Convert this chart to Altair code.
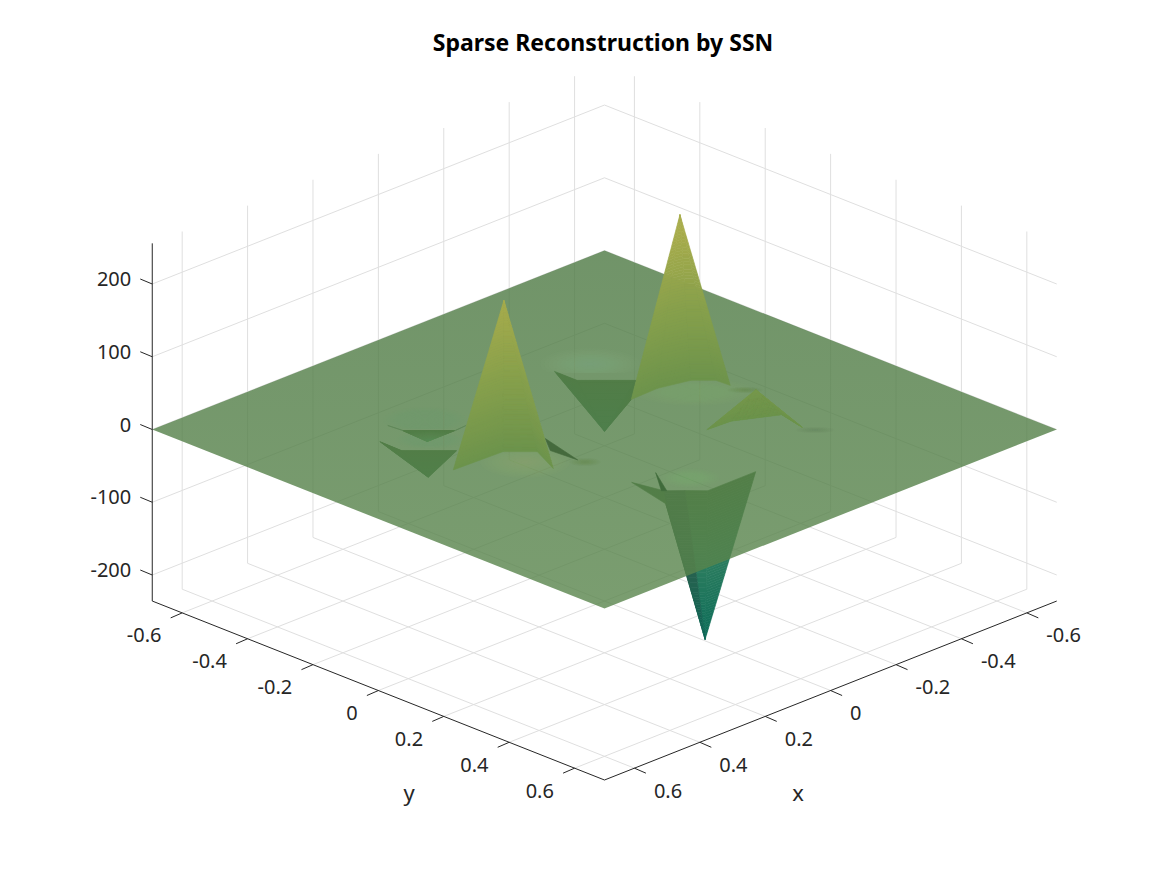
import math
import altair as alt
import pandas as pd

# ---- values -----------------------------------------------------------
TITLE = "Sparse Reconstruction by SSN"
XY_TICKS = [-0.6, -0.4, -0.2, 0, 0.2, 0.4, 0.6]
Z_TICKS = [-200, -100, 0, 100, 200]
LIM = 0.6915
Z_MIN, Z_MAX = -235.8, 255.9

# spikes: apex (x, y, z) and the rim they rise from (x, y at z = 0)
PEAK_A = ((0.2307, -0.0769, 205), [(0.3874, -0.075), (0.2402, -0.0697), (0.1881, -0.0175), (0.2294, 0.0729)])
PEAK_B = ((-0.3076, -0.0769, 227), [(-0.1572, -0.0753), (-0.2398, -0.0781), (-0.3219, -0.058), (-0.3602, -0.0196), (-0.3628, 0.0217)])
PEAK_F = ((-0.278, 0.185, 38), [(-0.1553, 0.1576), (-0.2255, 0.1612), (-0.3281, 0.2141), (-0.3099, 0.2967)])
PIT_G = ((-0.1923, -0.1923, -71), [(-0.1481, -0.3015), (-0.148, -0.2318), (-0.2375, -0.1424), (-0.1572, -0.0753)])
PIT_D = ((0.351, -0.188, -36.7), [(0.3902, -0.2972), (0.3918, -0.229), (0.3074, -0.1446)])
PIT_E = ((0.275, -0.267, -15), [(0.3127, -0.305), (0.2325, -0.2247)])
PIT_C_LEFT = ((0.0769, 0.3845, -206.7), [(0.1932, 0.3804), (0.1459, 0.327), (0.1126, 0.3588)])
PIT_C = ((0.0769, 0.3845, -206.7), [(0.1126, 0.3588), (0.0785, 0.3945), (-0.0684, 0.394)])

# small folds seen flat on the sheet
FOLD_C = [(0.1628, 0.2457), (0.1459, 0.327), (0.1932, 0.3804)]
FOLD_C2 = [(0.0884, 0.2449), (0.1413, 0.3315), (0.1495, 0.3235)]
FOLD_A = [(0.1254, -0.0556), (0.1584, 0.0765), (0.1643, -0.0015)]
SPUR_L = [(0.3159, -0.3469), (0.3127, -0.305), (0.3118, -0.3048)]
SPUR_R = [(0.1962, -0.2272), (0.2325, -0.2247), (0.2328, -0.2238)]

# ---- view ---------------------------------------------------------------
AX, BX, CX, CY, KZ = 327.0, 129.4, 604.5, 429.5, 0.7275


def proj(x, y, z=0.0):
    return (CX + (y - x) * AX, CY + (x + y) * BX - z * KZ)


def rgb(c):
    return "#%02x%02x%02x" % tuple(int(round(v)) for v in c)


def mix(a, b, t):
    return tuple(a[i] + (b[i] - a[i]) * t for i in range(3))


def ramp(z, stops):
    for (z0, c0), (z1, c1) in zip(stops, stops[1:]):
        if z <= z1:
            return mix(c0, c1, max(0, (z - z0) / (z1 - z0)))
    return stops[-1][1]


UP = [(0, (108, 147, 75)), (100, (135, 160, 75)), (205, (168, 172, 75))]
DOWN = [(-207, (12, 108, 88)), (-100, (45, 125, 95)), (0, (75, 118, 68))]
DOWN_LEFT = [(-207, (12, 100, 85)), (-100, (42, 98, 78)), (0, (65, 100, 68))]


def poly(points, color, alpha=1.0):
    ring = [list(p) for p in points] + [list(points[0])]
    return {"type": "Feature", "geometry": {"type": "Polygon", "coordinates": [ring]},
            "properties": {"color": color, "alpha": alpha}}


def fan(spike, stops, n=60):
    apex, rim = spike
    out = []
    for (x0, y0), (x1, y1) in zip(rim, rim[1:]):
        for k in range(n):
            t0, t1 = k / n, (k + 1) / n
            def at(x, y, t):
                return proj(x + (apex[0] - x) * t, y + (apex[1] - y) * t, apex[2] * t)
            out.append(poly([at(x0, y0, t0), at(x1, y1, t0), at(x1, y1, t1), at(x0, y0, t1)],
                            rgb(ramp(apex[2] * (t0 + t1) / 2, stops))))
    return out


def blob(x, y, rx, ry, color, clip=None, alpha=0.05, rings=12):
    cx, cy = proj(x, y)
    out = []
    for r in range(rings, 0, -1):
        f = r / rings
        pts = []
        for i in range(36):
            a = 2 * math.pi * i / 36
            py = cy + ry * f * math.sin(a)
            pts.append((cx + rx * f * math.cos(a), min(py, clip) if clip else py))
        out.append(poly(pts, color, alpha))
    return out


def shapes(features, stroke=True):
    c = alt.Chart(alt.Data(values=features))
    if stroke:
        m = c.mark_geoshape(strokeWidth=0.6)
        enc = m.encode(fill=alt.Fill("properties.color:N", scale=None),
                       stroke=alt.Stroke("properties.color:N", scale=None))
    else:
        m = c.mark_geoshape(strokeWidth=0)
        enc = m.encode(fill=alt.Fill("properties.color:N", scale=None),
                       fillOpacity=alt.FillOpacity("properties.alpha:Q", scale=None))
    return enc.project(type="identity", scale=1, translate=[-8, -8])


SX = alt.Scale(domain=[8, 1159], range=[0, 1151])
SY = alt.Scale(domain=[8, 867], range=[0, 859])


def rules(rows, color, width):
    df = pd.DataFrame(rows, columns=["a", "b", "a2", "b2"])
    return alt.Chart(df).mark_rule(color=color, strokeWidth=width).encode(
        x=alt.X("a:Q", scale=SX, axis=None), y=alt.Y("b:Q", scale=SY, axis=None),
        x2="a2:Q", y2="b2:Q")


def seg(p, q):
    return [p[0], p[1], q[0], q[1]]


# ---- box grid -------------------------------------------------------------
grid = []
for t in XY_TICKS:
    grid.append(seg(proj(t, -LIM, Z_MIN), proj(t, -LIM, Z_MAX)))
    grid.append(seg(proj(-LIM, t, Z_MIN), proj(-LIM, t, Z_MAX)))
    grid.append(seg(proj(t, -LIM, Z_MIN), proj(t, LIM, Z_MIN)))
    grid.append(seg(proj(-LIM, t, Z_MIN), proj(LIM, t, Z_MIN)))
for z in Z_TICKS:
    grid.append(seg(proj(LIM, -LIM, z), proj(-LIM, -LIM, z)))
    grid.append(seg(proj(-LIM, -LIM, z), proj(-LIM, LIM, z)))

# ---- axes -------------------------------------------------------------------
axis = [
    seg(proj(LIM, -LIM, Z_MIN), proj(LIM, -LIM, Z_MAX)),
    seg(proj(LIM, -LIM, Z_MIN), proj(LIM, LIM, Z_MIN)),
    seg(proj(-LIM, LIM, Z_MIN), proj(LIM, LIM, Z_MIN)),
]
labels = []
for t in XY_TICKS:
    p = proj(LIM, t, Z_MIN)
    axis.append(seg(p, (p[0] - 11.5, p[1] + 5)))
    labels.append({"a": p[0] - 20.7, "b": p[1] + 23.5, "t": f"{t:g}", "al": "right"})
    q = proj(t, LIM, Z_MIN)
    axis.append(seg(q, (q[0] + 11.5, q[1] + 5)))
    labels.append({"a": q[0] + 19.5, "b": q[1] + 23.5, "t": f"{t:g}", "al": "left"})
for z in Z_TICKS:
    p = proj(LIM, -LIM, z)
    axis.append(seg(p, (p[0] - 12, p[1] - 5)))
    labels.append({"a": p[0] - 21, "b": p[1] - 4, "t": f"{z:g}", "al": "right"})


def texts(rows, size, color, weight="normal", align="center"):
    return alt.Chart(pd.DataFrame(rows)).mark_text(
        font="Noto Sans", fontSize=size, color=color, fontWeight=weight, align=align, baseline="middle"
    ).encode(x=alt.X("a:Q", scale=SX, axis=None), y=alt.Y("b:Q", scale=SY, axis=None), text="t:N")


# ---- surface ------------------------------------------------------------------
below = []
for s in (PIT_G, PIT_D, PIT_E, PIT_C):
    below += fan(s, DOWN)
below += fan(PIT_C_LEFT, DOWN_LEFT)
below.append(poly([proj(*p) for p in FOLD_C], rgb((70, 112, 66))))

plane = alt.Chart(alt.Data(values=[poly(
    [proj(LIM, -LIM), proj(-LIM, -LIM), proj(-LIM, LIM), proj(LIM, LIM)], "#000000")]
)).mark_geoshape(
    strokeWidth=0, fillOpacity=0.8,
    fill=alt.LinearGradient(
        gradient="linear", x1=0, y1=0, x2=0, y2=1,
        stops=[alt.GradientStop(color="#4d7943", offset=0), alt.GradientStop(color="#59854c", offset=1)]),
).project(type="identity", scale=1, translate=[-8, -8])

glow = []
glow += blob(-0.2309, -0.2752, 50, 16, "#84b582", clip=373)
glow += blob(0.2378, -0.3112, 42, 13, "#7fae7b", clip=429, alpha=0.035)
glow += blob(0.3074, -0.2263, 35, 9, "#7fae7b", clip=449, alpha=0.035)
glow += blob(0.0567, 0.3182, 30, 10, "#80b07e", clip=489, alpha=0.03)
glow += blob(0.247, 0.004, 45, 16, "#95a878")
glow += blob(-0.2834, -0.0066, 60, 14, "#8fa876")
glow += blob(0.1554, 0.0958, 16, 4, "#51704d", alpha=0.03)
glow += blob(-0.3675, 0.0622, 18, 3, "#51704d", alpha=0.03)
glow += blob(-0.3199, 0.3238, 20, 3, "#5c7c58", alpha=0.02)

flat = [poly([proj(*p) for p in FOLD_A], "#456a3d"), poly([proj(*p) for p in FOLD_C2], "#3f6b3b"),
        poly([proj(*p) for p in SPUR_L], "#5d8555"), poly([proj(*p) for p in SPUR_R], "#5d8555")]
above = fan(PEAK_F, UP) + fan(PEAK_B, UP) + fan(PEAK_A, UP)

title = texts([{"a": 603, "b": 44, "t": TITLE}], 23, "#000000", "bold")
names = texts([{"a": 798, "b": 793.5, "t": "x"}, {"a": 409, "b": 794, "t": "y"}], 22, "#262626")

chart = alt.layer(
    rules(grid, "#dfdfdf", 1),
    shapes(below),
    plane,
    shapes(glow, stroke=False),
    shapes(flat),
    shapes(above),
    rules(axis, "#262626", 1),
    *[texts([l for l in labels if l["al"] == al], 20, "#262626", align=al) for al in ("left", "right")],
    names,
    title,
).properties(width=1151, height=859, padding=0, autosize="none", background="#ffffff"
).configure_view(stroke=None)

chart.save("out.html", embed_options={"renderer": "svg", "actions": False})
